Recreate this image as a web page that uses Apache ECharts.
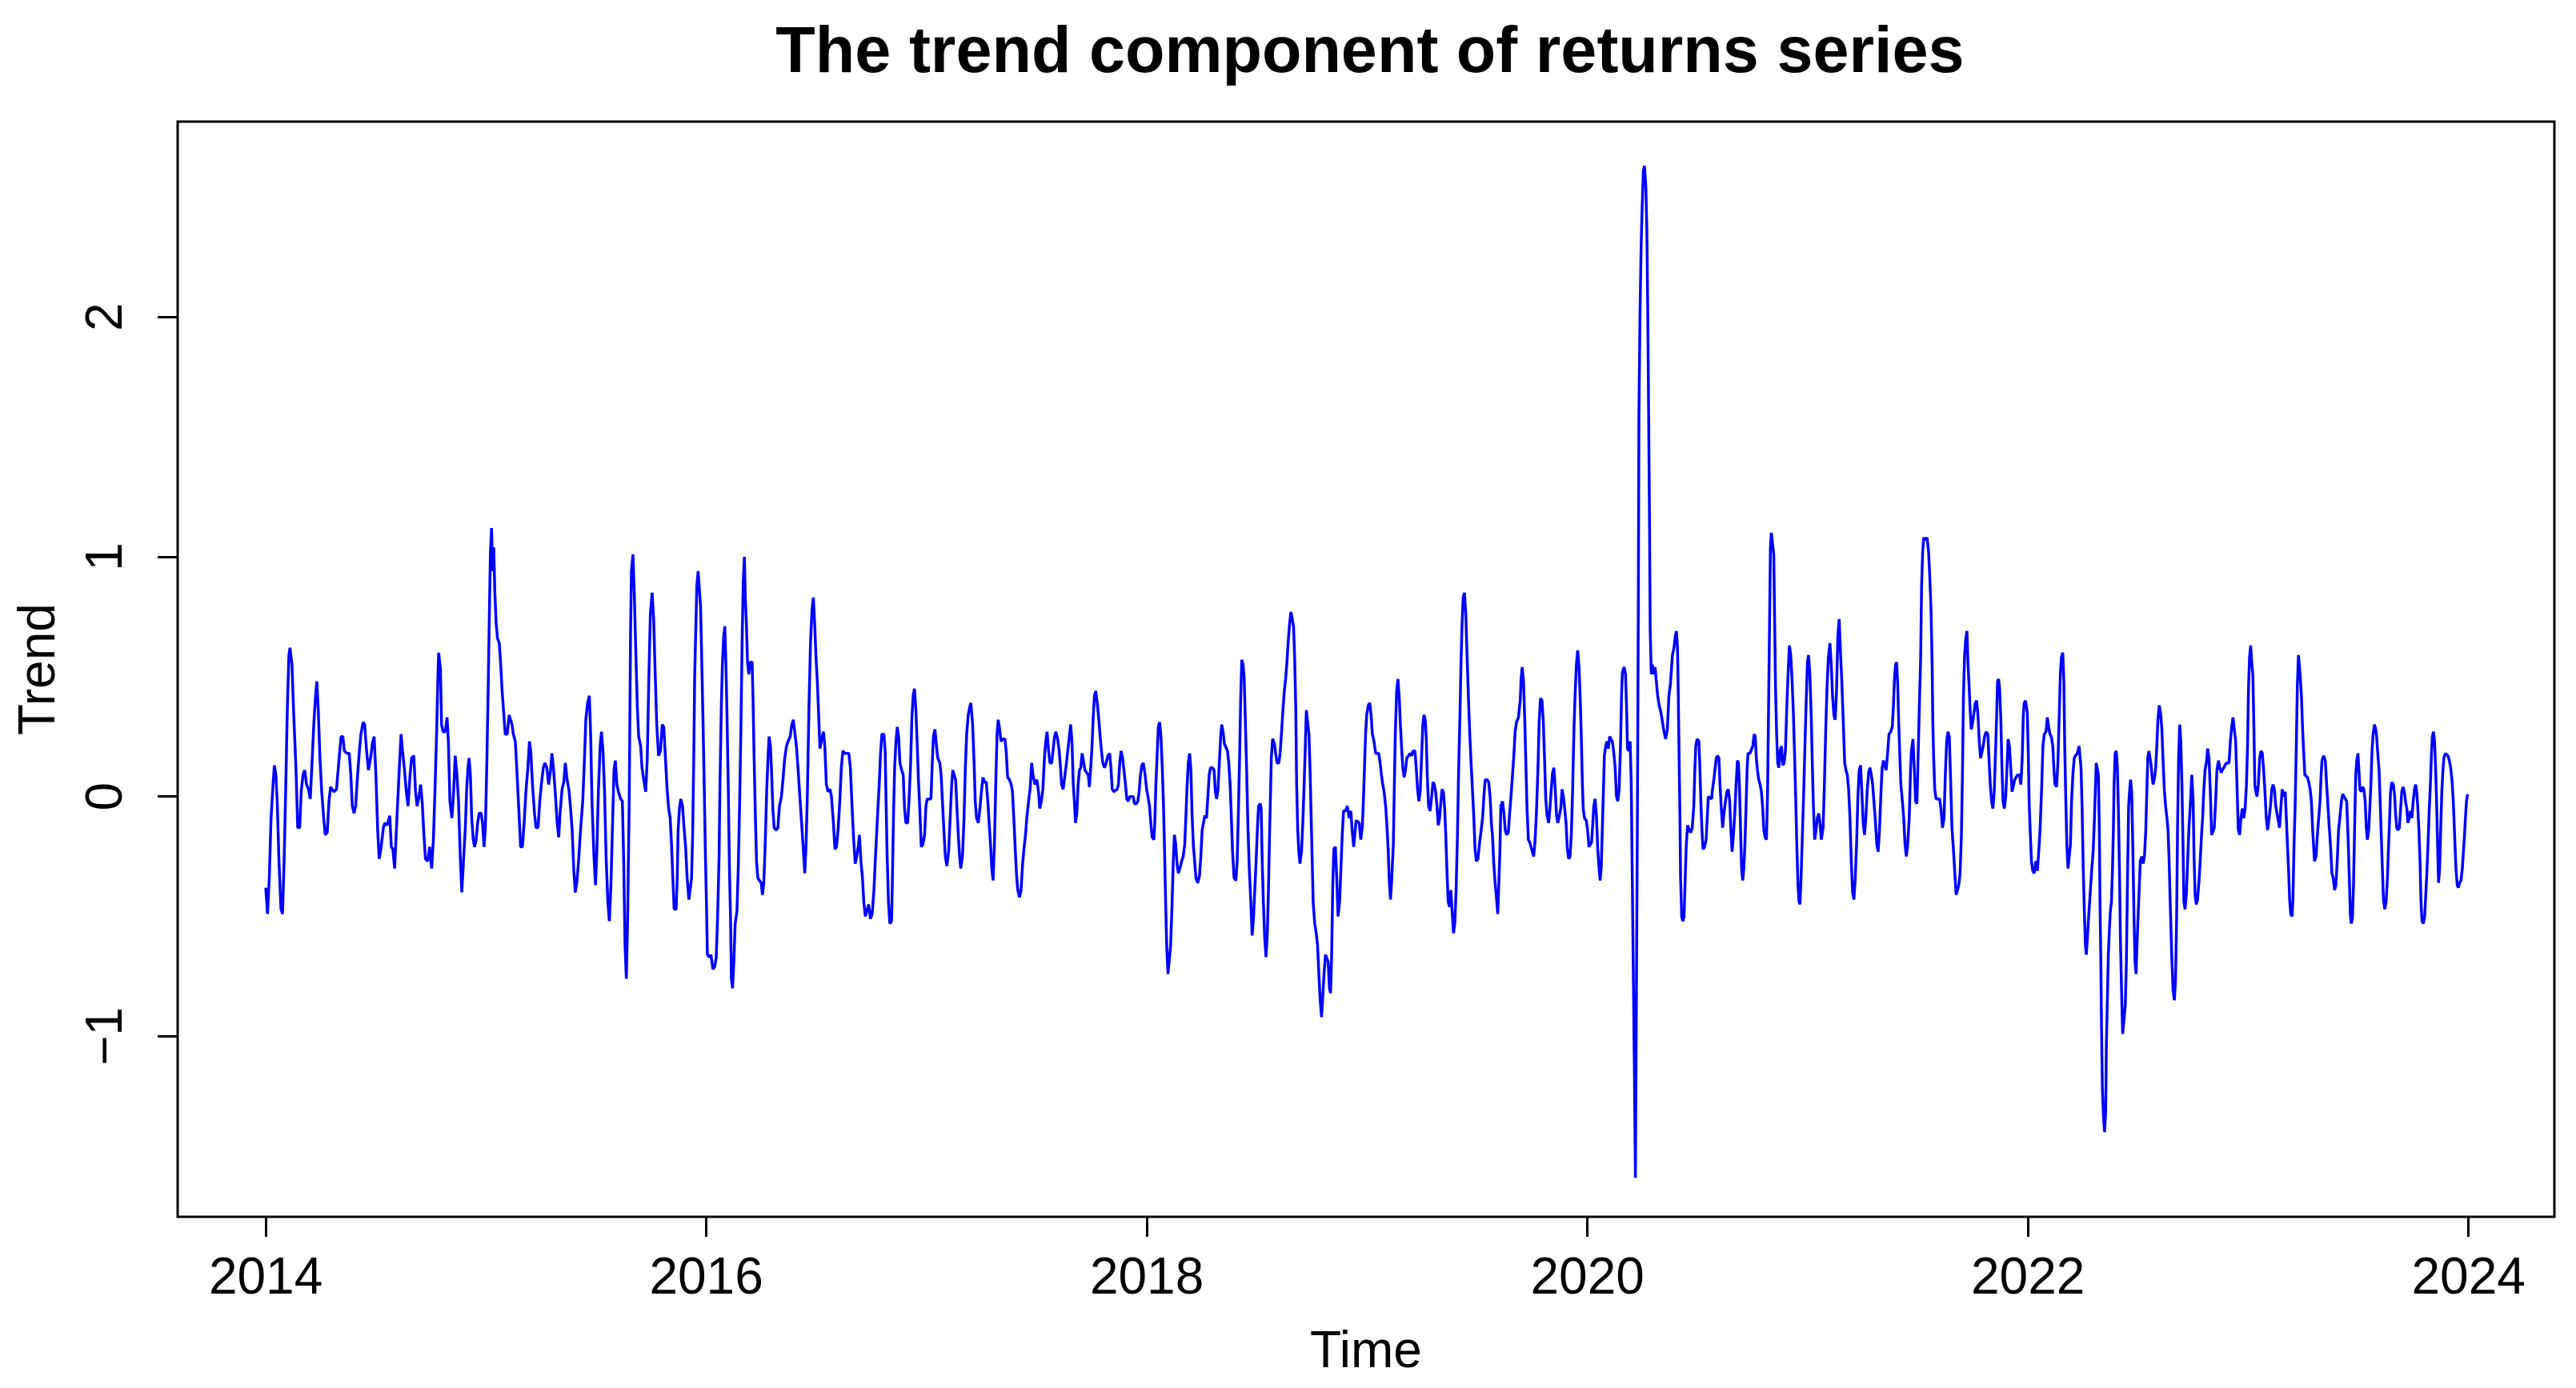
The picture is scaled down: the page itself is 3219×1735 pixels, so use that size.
<!DOCTYPE html>
<html>
<head>
<meta charset="utf-8">
<title>The trend component of returns series</title>
<script src="https://cdn.jsdelivr.net/npm/echarts@6/dist/echarts.min.js"></script>
<style>
html, body { margin: 0; padding: 0; background: #fff; }
#chart { width: 3219px; height: 1735px; }
</style>
</head>
<body>
<div id="chart"></div>
<script>
// tick positions
const xTicks = [2014, 2016, 2018, 2020, 2022, 2024]
const yTicks = [-1, 0, 1, 2]

// decimal year of each observation
const times = [
  2014.000,2014.008,2014.016,2014.024,2014.033,2014.039,2014.046,2014.052,2014.060,2014.069,
  2014.076,2014.083,2014.091,2014.098,2014.105,2014.110,2014.119,2014.127,2014.137,2014.145,
  2014.154,2014.161,2014.169,2014.177,2014.185,2014.194,2014.202,2014.209,2014.218,2014.226,
  2014.232,2014.238,2014.246,2014.254,2014.263,2014.270,2014.279,2014.287,2014.294,2014.309,
  2014.321,2014.335,2014.342,2014.350,2014.357,2014.369,2014.379,2014.386,2014.393,2014.401,
  2014.408,2014.417,2014.425,2014.432,2014.442,2014.449,2014.456,2014.466,2014.476,2014.484,
  2014.492,2014.500,2014.508,2014.515,2014.524,2014.534,2014.541,2014.551,2014.563,2014.570,
  2014.577,2014.585,2014.592,2014.599,2014.606,2014.614,2014.621,2014.629,2014.638,2014.646,
  2014.655,2014.662,2014.672,2014.680,2014.687,2014.696,2014.703,2014.710,2014.718,2014.725,
  2014.735,2014.744,2014.753,2014.761,2014.768,2014.776,2014.781,2014.785,2014.793,2014.798,
  2014.805,2014.815,2014.823,2014.829,2014.836,2014.845,2014.853,2014.860,2014.868,2014.875,
  2014.883,2014.890,2014.897,
  2014.906,2014.912,2014.918,2014.923,2014.929,2014.935,2014.942,2014.948,2014.955,2014.962,
  2014.969,2014.978,2014.984,2014.991,2014.997,2015.003,2015.009,2015.015,2015.020,2015.025,
  2015.030,2015.035,2015.040,2015.046,2015.052,2015.060,2015.066,2015.073,2015.081,2015.087,
  2015.096,2015.105,2015.111,2015.118,2015.124,2015.133,2015.141,2015.148,2015.157,2015.165,
  2015.173,2015.181,2015.190,2015.197,2015.203,2015.211,2015.220,2015.227,2015.236,2015.244,
  2015.251,2015.260,2015.267,2015.276,2015.284,2015.293,2015.299,2015.306,2015.314,2015.323,
  2015.330,2015.336,2015.345,2015.353,2015.360,2015.368,2015.376,2015.383,2015.391,2015.398,
  2015.405,2015.412,2015.420,2015.429,2015.439,2015.447,2015.453,2015.461,2015.469,2015.475,
  2015.481,2015.490,2015.497,2015.503,2015.510,2015.518,2015.524,2015.531,2015.538,2015.545,
  2015.553,2015.560,2015.567,2015.575,2015.581,2015.587,2015.594,2015.601,2015.611,2015.619,
  2015.625,2015.631,2015.637,2015.643,2015.650,2015.656,2015.660,2015.667,2015.673,2015.680,
  2015.687,2015.693,2015.702,2015.708,2015.716,2015.725,2015.732,2015.739,2015.746,2015.754,
  2015.761,2015.768,2015.775,2015.783,2015.792,2015.800,2015.807,
  2015.822,2015.829,2015.836,2015.842,2015.848,2015.854,2015.863,2015.868,2015.872,2015.878,
  2015.884,2015.892,2015.899,2015.906,2015.913,2015.921,2015.928,2015.933,2015.938,2015.943,
  2015.947,2015.952,2015.957,2015.963,2015.969,2015.974,2015.979,2015.985,2015.991,2015.996,
  2016.001,2016.005,2016.013,2016.021,2016.030,2016.038,2016.045,2016.051,2016.058,2016.062,
  2016.068,2016.073,2016.079,2016.084,2016.089,2016.094,2016.100,2016.105,2016.110,2016.114,
  2016.119,2016.125,2016.131,2016.139,2016.145,2016.151,2016.157,2016.163,2016.168,2016.173,
  2016.177,2016.182,2016.187,2016.193,2016.199,2016.208,2016.212,2016.217,2016.223,2016.228,
  2016.234,2016.241,2016.249,2016.255,2016.261,2016.267,2016.274,2016.280,2016.285,2016.291,
  2016.296,2016.302,2016.308,2016.317,2016.325,2016.332,2016.341,2016.348,2016.356,2016.364,
  2016.371,2016.381,2016.388,2016.395,2016.402,2016.409,2016.417,2016.426,2016.434,2016.441,
  2016.447,2016.453,2016.459,2016.466,2016.473,2016.480,2016.486,2016.492,2016.498,2016.504,
  2016.510,2016.516,2016.524,2016.532,2016.538,2016.545,2016.553,2016.562,2016.568,2016.577,
  2016.584,2016.591,2016.599,2016.606,2016.613,2016.620,2016.629,2016.637,2016.647,2016.654,
  2016.662,2016.669,2016.676,2016.683,2016.691,2016.695,2016.702,2016.709,2016.715,2016.722,
  2016.737,2016.745,2016.753,2016.761,2016.767,2016.773,2016.779,2016.785,2016.791,2016.797,
  2016.806,2016.812,2016.816,2016.821,2016.827,2016.833,2016.841,2016.845,2016.850,2016.855,
  2016.861,2016.867,2016.873,2016.879,2016.887,2016.894,2016.900,2016.906,2016.914,2016.920,
  2016.927,2016.933,2016.939,2016.945,2016.951,2016.957,2016.963,2016.969,2016.976,2016.983,
  2016.991,2016.997,2017.003,2017.020,2017.025,2017.031,2017.038,2017.045,2017.051,2017.060,
  2017.066,2017.072,2017.078,2017.085,2017.092,2017.100,2017.107,2017.114,2017.119,2017.126,
  2017.132,2017.138,2017.144,2017.150,2017.155,2017.163,2017.170,2017.176,2017.182,2017.189,
  2017.195,2017.201,2017.209,2017.215,2017.221,2017.227,2017.235,2017.242,2017.250,2017.256,
  2017.263,2017.271,2017.278,2017.284,2017.291,2017.296,2017.302,2017.308,2017.314,2017.320,
  2017.325,2017.332,2017.338,2017.347,2017.356,2017.362,2017.368,2017.376,2017.384,2017.390,
  2017.396,2017.402,2017.408,2017.414,2017.422,2017.429,2017.436,2017.443,2017.449,2017.455,
  2017.463,2017.470,2017.477,2017.483,2017.492,2017.501,2017.508,2017.514,2017.521,2017.528,
  2017.535,2017.541,2017.547,2017.554,2017.560,2017.568,2017.574,2017.581,2017.587,2017.595,
  2017.602,2017.608,2017.613,2017.620,2017.627,2017.635,
  2017.654,2017.660,2017.666,2017.671,2017.676,2017.682,2017.688,2017.694,2017.700,2017.706,
  2017.712,2017.719,2017.734,2017.739,2017.743,2017.750,2017.756,2017.762,2017.768,2017.775,
  2017.782,2017.788,2017.794,2017.800,2017.808,2017.815,2017.823,2017.831,2017.837,2017.843,
  2017.850,2017.865,2017.871,2017.877,2017.883,2017.890,2017.896,2017.903,2017.909,2017.915,
  2017.923,2017.938,2017.944,2017.952,2017.959,2017.965,2017.971,2017.977,2017.984,2017.992,
  2017.999,2018.005,2018.012,2018.018,2018.024,2018.032,2018.036,2018.041,2018.047,2018.052,
  2018.058,2018.064,2018.070,2018.075,2018.080,2018.085,2018.090,2018.096,2018.102,2018.108,
  2018.114,2018.120,2018.125,2018.131,2018.137,2018.143,2018.150,2018.158,2018.165,2018.172,
  2018.177,2018.182,2018.188,2018.194,2018.200,2018.205,2018.211,2018.217,2018.223,2018.231,
  2018.239,2018.245,2018.251,2018.257,2018.263,2018.271,2018.277,2018.283,2018.289,2018.298,
  2018.305,2018.311,2018.317,2018.323,2018.329,2018.335,2018.340,2018.346,2018.352,2018.366,
  2018.372,2018.378,2018.383,2018.389,2018.396,2018.404,2018.410,2018.416,2018.421,2018.426,
  2018.431,2018.437,2018.442,2018.447,2018.453,2018.459,2018.465,2018.472,2018.478,2018.484,
  2018.490,2018.496,2018.502,2018.507,2018.515,2018.519,2018.524,2018.529,2018.535,2018.541,
  2018.547,2018.552,2018.557,
  2018.565,2018.571,2018.579,2018.585,2018.591,2018.599,2018.605,2018.611,2018.617,2018.624,
  2018.630,2018.636,2018.642,2018.648,2018.654,2018.661,2018.666,2018.671,2018.676,2018.680,
  2018.685,2018.690,2018.695,2018.702,2018.708,2018.714,2018.720,2018.724,2018.730,2018.736,
  2018.741,2018.746,2018.751,2018.755,2018.762,2018.769,2018.775,2018.781,2018.787,2018.793,
  2018.799,2018.805,2018.811,2018.817,2018.823,2018.829,2018.834,2018.839,2018.844,2018.849,
  2018.856,2018.862,2018.868,2018.875,2018.881,2018.887,2018.893,2018.902,2018.910,2018.918,
  2018.926,2018.932,2018.939,2018.944,2018.950,2018.964,2018.971,2018.978,2018.983,2018.988,
  2018.993,2018.998,2019.005,2019.012,2019.018,2019.024,2019.031,2019.039,2019.053,2019.059,
  2019.065,2019.071,2019.077,2019.085,2019.091,2019.096,2019.100,2019.106,2019.112,2019.119,
  2019.123,2019.128,2019.134,2019.140,2019.146,2019.151,2019.156,2019.162,2019.168,2019.174,
  2019.180,2019.195,2019.202,2019.208,2019.217,2019.223,2019.229,2019.235,2019.241,2019.247,
  2019.253,2019.258,2019.264,2019.269,2019.273,2019.279,2019.286,2019.293,2019.299,2019.305,
  2019.311,2019.317,2019.323,2019.329,2019.335,2019.340,2019.346,2019.352,2019.357,2019.362,
  2019.368,2019.374,2019.380,2019.386,2019.392,2019.398,2019.404,2019.410,2019.415,2019.421,
  2019.426,2019.431,2019.436,2019.442,2019.448,2019.454,2019.460,2019.466,2019.472,
  2019.478,2019.484,2019.490,2019.496,2019.503,2019.511,2019.518,2019.525,2019.530,2019.536,
  2019.545,2019.552,2019.559,2019.564,2019.569,2019.575,2019.581,2019.587,2019.593,2019.598,
  2019.603,2019.607,2019.615,2019.621,2019.627,2019.633,2019.641,2019.647,2019.653,2019.660,
  2019.666,2019.672,2019.678,2019.687,2019.695,2019.699,2019.704,2019.710,2019.716,2019.721,
  2019.726,2019.732,2019.738,2019.744,2019.750,2019.756,2019.762,2019.768,2019.775,2019.781,
  2019.787,2019.794,2019.800,2019.806,2019.811,2019.817,2019.824,2019.830,2019.836,2019.842,
  2019.848,2019.854,2019.860,2019.866,2019.873,2019.879,2019.885,2019.891,2019.897,2019.903,
  2019.909,2019.915,2019.921,2019.927,2019.933,2019.939,2019.944,2019.950,2019.956,2019.962,
  2019.967,2019.972,2019.977,2019.981,2019.987,2019.995,2020.001,2020.007,2020.013,2020.019,
  2020.024,2020.029,2020.035,2020.041,2020.047,2020.053,2020.058,2020.063,2020.067,2020.072,
  2020.077,2020.083,2020.089,2020.095,2020.101,2020.107,2020.113,2020.119,2020.126,2020.132,
  2020.138,2020.144,2020.150,2020.155,2020.159,2020.167,2020.173,2020.178,2020.182,2020.188,
  2020.194,2020.199,2020.204,2020.209,2020.214,2020.218,2020.222,2020.227,2020.231,2020.234,
  2020.239,2020.244,2020.249,2020.254,2020.259,2020.265,2020.270,2020.274,2020.278,2020.282,
  2020.285,2020.290,2020.295,2020.301,2020.307,2020.314,2020.319,2020.326,2020.334,2020.341,
  2020.348,2020.355,2020.363,2020.370,2020.377,2020.386,
  2020.393,2020.399,2020.404,2020.409,2020.412,2020.416,2020.420,2020.423,2020.428,2020.433,
  2020.439,2020.444,2020.449,2020.455,2020.462,2020.469,2020.476,2020.483,2020.487,2020.492,
  2020.498,2020.506,2020.510,2020.515,2020.520,2020.525,2020.532,2020.539,2020.544,2020.549,
  2020.564,2020.568,2020.574,2020.581,2020.585,2020.591,2020.597,2020.602,2020.608,2020.614,
  2020.620,2020.627,2020.633,2020.640,2020.646,2020.651,2020.657,2020.663,2020.669,2020.675,
  2020.681,2020.686,2020.691,2020.696,2020.700,2020.705,2020.710,2020.715,2020.720,2020.725,
  2020.729,2020.738,2020.745,2020.751,2020.757,2020.762,2020.767,2020.772,2020.778,2020.784,
  2020.790,2020.796,2020.801,2020.807,2020.813,2020.818,2020.823,2020.828,2020.831,2020.835,
  2020.841,2020.846,2020.850,2020.854,2020.859,2020.864,2020.869,2020.875,2020.881,2020.887,
  2020.893,2020.899,2020.905,2020.911,2020.917,2020.923,2020.929,2020.935,2020.941,2020.946,
  2020.951,2020.956,2020.961,2020.965,2020.970,2020.976,2020.982,2020.987,2020.993,2020.999,
  2021.004,2021.010,2021.016,2021.021,2021.026,2021.032,2021.038,2021.044,2021.050,2021.056,
  2021.062,2021.070,2021.076,2021.082,2021.088,2021.094,2021.101,2021.107,2021.113,2021.119,
  2021.125,2021.131,2021.137,2021.143,2021.149,2021.155,2021.162,2021.168,2021.174,2021.180,
  2021.186,2021.192,2021.198,2021.204,2021.210,2021.216,2021.222,2021.228,2021.234,2021.240,
  2021.246,2021.252,2021.258,2021.264,2021.270,2021.277,2021.283,2021.289,2021.295,
  2021.308,2021.314,2021.320,2021.326,2021.332,2021.338,2021.344,2021.350,2021.356,2021.363,
  2021.369,2021.377,2021.384,2021.389,2021.394,2021.399,2021.404,2021.409,2021.413,2021.418,
  2021.423,2021.430,2021.436,2021.442,2021.448,2021.454,2021.461,2021.467,2021.471,2021.478,
  2021.484,2021.490,2021.496,2021.502,2021.508,2021.513,2021.517,2021.522,2021.527,2021.534,
  2021.542,2021.549,2021.555,2021.560,2021.565,2021.568,2021.572,2021.577,2021.583,2021.599,
  2021.605,2021.612,2021.619,2021.625,2021.631,2021.637,2021.643,2021.649,2021.655,2021.661,
  2021.668,2021.674,2021.680,2021.686,2021.692,2021.698,2021.703,2021.707,2021.712,2021.717,
  2021.723,2021.728,2021.733,2021.738,2021.743,2021.749,2021.755,2021.761,2021.767,2021.773,
  2021.779,2021.785,2021.791,2021.797,2021.803,2021.810,2021.818,2021.822,2021.829,2021.835,
  2021.841,2021.847,2021.853,2021.858,2021.862,2021.867,2021.872,2021.877,2021.882,2021.887,
  2021.893,2021.899,2021.905,2021.910,2021.916,2021.922,2021.928,2021.934,2021.940,2021.953,
  2021.962,2021.968,2021.974,2021.979,2021.983,2021.989,2021.997,2022.002,2022.006,2022.011,
  2022.016,2022.022,2022.028,2022.036,2022.043,2022.049,2022.055,2022.062,2022.068,2022.074,
  2022.082,2022.088,2022.094,2022.100,2022.106,2022.113,2022.118,2022.123,2022.130,2022.136,
  2022.142,2022.147,2022.152,2022.158,2022.163,2022.167,2022.172,2022.177,2022.182,2022.188,
  2022.193,2022.198,2022.204,2022.210,2022.216,
  2022.224,2022.232,2022.236,2022.241,2022.246,2022.251,2022.256,2022.261,2022.265,2022.270,
  2022.275,2022.280,2022.285,2022.290,2022.296,2022.302,2022.307,2022.310,2022.315,2022.320,
  2022.324,2022.327,2022.331,2022.334,2022.338,2022.343,2022.348,2022.353,2022.356,2022.360,
  2022.365,2022.370,2022.374,2022.379,2022.384,2022.388,2022.391,2022.396,2022.401,2022.406,
  2022.411,2022.416,2022.420,2022.425,2022.430,2022.437,2022.442,2022.447,2022.452,2022.457,
  2022.462,2022.466,2022.471,2022.476,2022.481,2022.486,2022.491,2022.495,2022.500,2022.505,
  2022.510,2022.517,2022.523,2022.529,2022.535,2022.540,2022.544,2022.549,2022.554,2022.558,
  2022.563,2022.568,2022.575,2022.580,2022.585,2022.590,2022.596,2022.602,2022.608,2022.613,
  2022.619,2022.625,2022.631,2022.636,2022.641,2022.647,2022.653,2022.659,2022.665,2022.670,
  2022.675,2022.679,2022.684,2022.689,2022.694,2022.699,2022.704,2022.708,2022.713,2022.719,
  2022.725,2022.731,2022.738,2022.744,2022.750,2022.754,2022.759,2022.764,2022.770,2022.776,
  2022.782,2022.788,2022.793,2022.798,2022.804,2022.810,2022.816,2022.822,2022.828,2022.834,
  2022.840,2022.846,2022.852,2022.858,2022.865,2022.871,2022.877,2022.889,2022.901,2022.913,
  2022.919,2022.925,2022.931,2022.938,2022.943,2022.949,2022.955,2022.961,2022.967,2022.973,
  2022.980,2022.986,2022.992,2022.997,2023.001,2023.006,2023.011,2023.016,2023.021,2023.026,
  2023.030,2023.035,2023.040,2023.046,2023.052,2023.058,2023.064,2023.070,2023.076,2023.082,
  2023.088,2023.095,2023.101,2023.107,2023.113,2023.119,2023.125,
  2023.142,2023.148,2023.154,2023.159,2023.164,2023.168,2023.173,2023.178,2023.183,2023.188,
  2023.193,2023.199,2023.203,2023.208,2023.213,2023.218,2023.223,2023.228,2023.232,2023.237,
  2023.242,2023.247,2023.252,2023.257,2023.269,2023.275,2023.281,2023.287,2023.292,2023.297,
  2023.301,2023.308,2023.314,2023.320,2023.326,2023.331,2023.335,2023.343,2023.350,2023.356,
  2023.362,2023.368,2023.374,2023.380,2023.386,2023.392,2023.398,2023.404,2023.410,2023.416,
  2023.423,2023.429,2023.441,2023.447,2023.453,2023.459,2023.464,2023.468,2023.473,2023.478,
  2023.483,2023.488,2023.493,2023.498,2023.502,2023.507,2023.513,2023.519,2023.525,2023.531,
  2023.536,2023.541,2023.547,2023.552,2023.557,2023.562,2023.567,2023.573,2023.579,2023.583,
  2023.588,2023.594,2023.599,2023.604,2023.609,2023.614,2023.620,2023.626,2023.632,2023.637,
  2023.642,2023.646,2023.652,2023.659,2023.665,2023.669,2023.674,2023.680,2023.686,2023.692,
  2023.697,2023.703,2023.709,2023.714,2023.720,2023.725,2023.731,2023.737,2023.743,2023.749,
  2023.755,2023.760,2023.765,2023.770,2023.775,2023.780,2023.784,2023.789,2023.795,2023.801,
  2023.806,2023.811,2023.817,2023.822,2023.827,2023.832,2023.836,2023.841,2023.846,2023.851,
  2023.856,2023.861,2023.864,2023.869,2023.874,2023.879,2023.884,2023.888,2023.895,2023.901,
  2023.907,2023.913,2023.919,2023.925,2023.931,2023.937,2023.943,2023.949,2023.954,2023.960,
  2023.966,2023.972,2023.977,2023.982,2023.986,2023.991,2023.996
]

// trend value at each time
const trend = [
  -0.38,-0.49,-0.34,-0.09,0.05,0.13,0.09,-0.02,-0.27,-0.47,
  -0.49,-0.28,0.05,0.37,0.59,0.62,0.55,0.34,0.12,-0.13,
  -0.13,0.02,0.09,0.11,0.05,0.03,-0.01,0.12,0.30,0.42,
  0.48,0.37,0.16,0.02,-0.09,-0.16,-0.15,-0.02,0.04,0.02,
  0.03,0.18,0.25,0.25,0.19,0.18,0.18,0.09,-0.04,-0.07,
  -0.04,0.09,0.19,0.26,0.31,0.30,0.21,0.11,0.16,0.22,
  0.25,0.09,-0.14,-0.26,-0.21,-0.13,-0.11,-0.12,-0.08,-0.21,
  -0.22,-0.30,-0.16,-0.02,0.11,0.26,0.19,0.12,0.02,-0.04,
  0.09,0.16,0.17,0.02,-0.04,0.00,0.05,-0.02,-0.16,-0.26,
  -0.27,-0.21,-0.30,-0.18,0.02,0.28,0.48,0.60,0.53,0.30,
  0.27,0.27,0.33,0.23,-0.02,-0.09,0.02,0.17,0.09,-0.02,
  -0.25,-0.40,-0.28,
  -0.13,0.03,0.12,0.16,0.09,-0.09,-0.18,-0.21,-0.18,-0.11,
  -0.07,-0.07,-0.11,-0.21,-0.13,0.11,0.41,0.76,1.02,1.12,
  0.94,1.04,0.85,0.72,0.66,0.64,0.56,0.44,0.34,0.26,
  0.26,0.34,0.34,0.30,0.26,0.23,0.09,-0.04,-0.21,-0.21,
  -0.11,0.02,0.12,0.23,0.19,0.05,-0.07,-0.13,-0.13,-0.02,
  0.05,0.12,0.14,0.12,0.05,0.11,0.18,0.12,0.02,-0.11,
  -0.17,-0.07,0.03,0.06,0.14,0.07,0.03,-0.04,-0.14,-0.30,
  -0.40,-0.36,-0.27,-0.14,-0.02,0.16,0.32,0.39,0.42,0.26,
  -0.02,-0.25,-0.37,-0.23,0.02,0.21,0.27,0.19,0.02,-0.25,
  -0.44,-0.52,-0.37,-0.09,0.11,0.15,0.05,0.02,-0.01,-0.02,
  -0.27,-0.62,-0.76,-0.50,-0.02,0.67,0.94,1.01,0.85,0.60,
  0.37,0.25,0.21,0.12,0.07,0.02,0.16,0.49,0.76,0.85,
  0.74,0.51,0.30,0.17,0.19,0.30,0.29,
  0.03,-0.05,-0.09,-0.20,-0.34,-0.47,-0.47,-0.34,-0.14,-0.05,
  -0.01,-0.04,-0.13,-0.21,-0.34,-0.43,-0.43,-0.34,-0.16,0.16,
  0.49,0.69,0.88,0.94,0.94,0.79,0.58,0.32,0.02,-0.25,
  -0.46,-0.66,-0.67,-0.66,-0.72,-0.71,-0.67,-0.51,-0.25,0.05,
  0.37,0.55,0.67,0.71,0.55,0.34,0.02,-0.30,-0.51,-0.76,
  -0.80,-0.69,-0.53,-0.48,-0.30,-0.04,0.28,0.67,0.90,1.00,
  0.83,0.72,0.56,0.51,0.56,0.56,0.41,0.16,-0.09,-0.27,
  -0.34,-0.35,-0.36,-0.41,-0.36,-0.21,0.02,0.16,0.25,0.21,
  0.11,-0.05,-0.13,-0.14,-0.13,-0.04,0.00,0.07,0.16,0.21,
  0.23,0.25,0.30,0.32,0.32,0.21,0.11,-0.02,-0.13,-0.23,
  -0.32,-0.20,0.02,0.37,0.64,0.78,0.83,0.72,0.58,0.48,
  0.34,0.20,0.24,0.27,0.21,0.05,0.02,0.03,0.00,-0.11,
  -0.22,-0.21,-0.13,-0.02,0.12,0.19,0.18,0.18,0.18,0.12,
  -0.05,-0.18,-0.28,-0.25,-0.20,-0.16,-0.27,-0.34,-0.44,-0.50,
  -0.45,-0.51,-0.49,-0.39,-0.27,-0.16,-0.05,0.05,0.18,0.26,
  0.26,0.19,-0.02,-0.25,-0.44,-0.53,-0.52,-0.34,-0.07,0.12,
  0.23,0.29,0.25,0.14,0.11,0.09,-0.05,-0.11,-0.11,-0.02,
  0.12,0.32,0.42,0.45,0.37,0.23,0.07,-0.05,-0.21,-0.20,
  -0.16,-0.04,-0.01,-0.01,0.12,0.25,0.28,0.21,0.16,0.14,
  0.09,-0.02,-0.13,-0.25,-0.29,-0.23,-0.09,0.05,0.11,0.11,
  0.07,-0.05,-0.16,-0.25,-0.30,-0.25,-0.09,0.12,0.26,0.34,
  0.37,0.39,0.30,0.16,-0.02,-0.09,-0.11,-0.05,0.03,0.08,
  0.06,0.06,-0.02,-0.11,-0.21,-0.30,-0.35,-0.20,0.05,0.26,
  0.32,0.28,0.23,0.24,0.24,0.18,0.08,0.07,0.05,0.02,
  -0.09,-0.21,-0.32,-0.39,-0.42,-0.39,-0.28,-0.21,-0.16,-0.09,
  -0.02,0.03,0.14,0.09,0.05,0.07,0.02,-0.05,-0.02,0.03,
  0.16,0.23,0.27,0.19,0.14,0.14,0.19,0.25,0.27,0.24,
  0.19,0.12,0.05,0.03,0.03,0.14,
  0.30,0.23,0.05,-0.02,-0.11,-0.07,0.05,0.11,0.12,0.18,
  0.15,0.11,0.09,0.04,0.09,0.19,0.32,0.42,0.44,0.39,
  0.32,0.25,0.19,0.14,0.12,0.14,0.17,0.18,0.12,0.03,
  0.02,0.03,0.05,0.14,0.19,0.16,0.11,0.05,-0.01,-0.02,
  0.00,0.00,-0.03,-0.03,-0.02,0.02,0.09,0.13,0.14,0.09,
  0.03,0.00,-0.04,-0.11,-0.17,-0.18,-0.11,0.05,0.18,0.29,
  0.31,0.25,0.12,-0.02,-0.21,-0.43,-0.62,-0.74,-0.74,-0.62,
  -0.46,-0.27,-0.16,-0.20,-0.28,-0.32,-0.30,-0.27,-0.25,-0.20,
  -0.09,0.03,0.14,0.18,0.11,-0.07,-0.20,-0.27,-0.34,-0.36,
  -0.33,-0.25,-0.14,-0.11,-0.08,-0.09,0.00,0.09,0.12,0.12,
  0.11,0.02,-0.01,0.03,0.14,0.25,0.30,0.27,0.22,0.19,
  0.14,0.05,-0.07,-0.23,-0.34,-0.35,-0.27,-0.05,0.16,0.41,
  0.57,0.55,0.49,0.32,0.11,-0.13,-0.30,-0.44,-0.58,-0.51,
  -0.39,-0.27,-0.13,-0.04,-0.03,-0.05,-0.28,-0.44,-0.59,-0.67,
  -0.57,-0.39,-0.16,
  0.16,0.24,0.22,0.18,0.14,0.14,0.18,0.26,0.35,0.44,
  0.49,0.56,0.65,0.72,0.77,0.77,0.71,0.58,0.37,0.05,
  -0.14,-0.23,-0.28,-0.23,-0.11,0.05,0.23,0.36,0.36,0.26,
  0.11,-0.09,-0.28,-0.44,-0.53,-0.57,-0.62,-0.74,-0.85,-0.92,
  -0.83,-0.73,-0.66,-0.66,-0.69,-0.80,-0.82,-0.66,-0.37,-0.22,
  -0.21,-0.34,-0.50,-0.44,-0.30,-0.16,-0.06,-0.06,-0.04,-0.09,
  -0.06,-0.14,-0.21,-0.16,-0.10,-0.11,-0.18,-0.13,-0.02,0.12,
  0.26,0.34,0.38,0.39,0.34,0.26,0.23,0.18,0.18,0.14,
  0.09,0.05,0.02,-0.05,-0.14,-0.23,-0.34,-0.43,-0.34,-0.20,
  0.02,0.26,0.44,0.49,0.41,0.30,0.21,0.12,0.08,0.11,
  0.16,0.18,0.17,0.19,0.19,0.12,0.03,-0.02,0.02,0.16,
  0.30,0.34,0.32,0.23,0.09,-0.04,-0.06,0.00,0.06,0.05,
  0.02,-0.04,-0.12,-0.09,-0.02,0.03,0.02,-0.05,-0.16,-0.30,
  -0.44,-0.46,-0.39,-0.48,-0.57,-0.53,-0.39,-0.16,0.09,0.32,
  0.55,0.72,0.83,0.85,0.76,0.58,0.41,0.26,0.14,
  0.03,-0.08,-0.22,-0.27,-0.26,-0.19,-0.14,-0.08,0.00,0.07,
  0.07,0.06,-0.01,-0.11,-0.16,-0.28,-0.36,-0.42,-0.49,-0.36,
  -0.22,-0.04,-0.02,-0.07,-0.14,-0.16,-0.15,-0.07,0.00,0.09,
  0.17,0.27,0.31,0.33,0.40,0.49,0.54,0.48,0.31,0.12,
  -0.05,-0.18,-0.19,-0.21,-0.23,-0.25,-0.19,-0.08,0.10,0.31,
  0.41,0.40,0.31,0.14,-0.01,-0.08,-0.11,-0.05,0.03,0.10,
  0.12,0.03,-0.08,-0.11,-0.11,-0.05,0.03,0.00,-0.05,-0.11,
  -0.22,-0.26,-0.25,-0.16,0.03,0.28,0.42,0.55,0.61,0.54,
  0.42,0.26,0.06,-0.05,-0.09,-0.10,-0.14,-0.21,-0.21,-0.19,
  -0.12,-0.04,-0.01,-0.08,-0.22,-0.30,-0.35,-0.29,-0.16,0.00,
  0.17,0.21,0.23,0.20,0.25,0.24,0.23,0.19,0.12,0.00,
  -0.02,0.03,0.20,0.42,0.52,0.54,0.51,0.37,0.20,0.19,
  0.23,0.06,-0.36,-0.78,-1.20,-1.59,-0.92,-0.08,0.76,1.60,
  2.02,2.30,2.47,2.61,2.63,2.55,2.36,2.02,1.60,1.15,
  0.70,0.51,0.55,0.51,0.54,0.54,0.42,0.38,0.35,0.31,
  0.27,0.24,0.28,0.42,0.47,0.59,
  0.62,0.67,0.69,0.62,0.46,0.19,-0.07,-0.34,-0.50,-0.52,
  -0.50,-0.34,-0.20,-0.12,-0.14,-0.15,-0.13,-0.04,0.09,0.21,
  0.24,0.23,0.14,-0.02,-0.14,-0.22,-0.21,-0.18,-0.09,0.00,
  -0.01,0.03,0.07,0.07,0.16,0.17,0.16,0.05,-0.05,-0.13,
  -0.07,-0.02,0.02,0.03,-0.02,-0.13,-0.23,-0.16,-0.07,0.05,
  0.15,0.14,0.02,-0.16,-0.30,-0.35,-0.30,-0.20,-0.05,0.11,
  0.18,0.18,0.18,0.21,0.26,0.25,0.16,0.11,0.07,0.05,
  0.02,-0.05,-0.14,-0.17,-0.18,0.02,0.41,0.81,1.04,1.10,
  1.10,1.01,0.74,0.46,0.26,0.14,0.12,0.19,0.21,0.13,
  0.14,0.19,0.37,0.51,0.63,0.59,0.49,0.35,0.16,-0.02,
  -0.21,-0.37,-0.44,-0.45,-0.34,-0.16,0.02,0.19,0.39,0.56,
  0.59,0.51,0.34,0.14,-0.04,-0.18,-0.14,-0.09,-0.07,-0.11,
  -0.18,-0.13,0.05,0.28,0.46,0.58,0.64,0.55,0.42,0.34,
  0.32,0.44,0.67,0.74,0.60,0.48,0.30,0.14,0.11,0.09,
  0.03,-0.09,-0.27,-0.40,-0.43,-0.34,-0.20,0.00,0.11,0.13,
  0.02,-0.11,-0.16,-0.09,0.02,0.10,0.12,0.09,0.05,
  -0.11,-0.20,-0.23,-0.14,0.00,0.12,0.15,0.13,0.11,0.18,
  0.26,0.27,0.29,0.37,0.49,0.55,0.56,0.46,0.32,0.18,
  0.05,-0.02,-0.09,-0.20,-0.25,-0.20,-0.09,0.11,0.19,0.24,
  0.12,-0.02,-0.03,0.19,0.41,0.58,0.87,1.02,1.08,1.07,
  1.08,1.02,0.90,0.78,0.55,0.32,0.16,0.03,-0.01,-0.01,
  -0.05,-0.13,-0.09,0.09,0.23,0.27,0.25,0.07,-0.13,-0.21,
  -0.32,-0.41,-0.41,-0.37,-0.32,-0.16,0.11,0.41,0.58,0.65,
  0.69,0.55,0.46,0.35,0.28,0.31,0.35,0.39,0.40,0.34,
  0.23,0.16,0.16,0.21,0.25,0.27,0.26,0.18,0.05,-0.02,
  -0.05,0.02,0.19,0.34,0.48,0.49,0.44,0.32,0.12,-0.02,
  -0.05,0.00,0.12,0.24,0.21,0.12,0.02,0.02,0.07,0.09,
  0.09,0.05,0.16,0.34,0.39,0.40,0.35,0.16,-0.04,-0.16,
  -0.27,-0.31,-0.32,-0.27,-0.31,-0.23,-0.14,0.03,0.21,0.26,
  0.27,0.33,0.29,0.26,0.25,0.21,0.11,0.05,0.04,0.14,
  0.34,0.51,0.58,0.60,0.48,0.21,-0.02,-0.21,-0.30,-0.30,
  -0.20,-0.02,0.09,0.16,0.17,
  0.18,0.21,0.21,0.12,-0.05,-0.30,-0.48,-0.62,-0.66,-0.59,
  -0.51,-0.44,-0.37,-0.30,-0.23,-0.09,0.05,0.14,0.14,0.09,
  -0.13,-0.43,-0.69,-0.96,-1.22,-1.34,-1.40,-1.31,-1.04,-0.87,
  -0.66,-0.55,-0.48,-0.44,-0.30,-0.13,0.05,0.18,0.19,0.12,
  -0.07,-0.34,-0.60,-0.81,-0.99,-0.99,-0.87,-0.69,-0.34,-0.04,
  0.03,0.07,0.02,-0.20,-0.48,-0.69,-0.74,-0.62,-0.50,-0.39,
  -0.27,-0.25,-0.28,-0.25,-0.14,0.03,0.16,0.19,0.19,0.14,
  0.09,0.05,0.08,0.12,0.21,0.32,0.38,0.35,0.28,0.16,
  0.03,-0.04,-0.09,-0.14,-0.27,-0.48,-0.67,-0.81,-0.85,-0.76,
  -0.51,-0.14,0.16,0.30,0.23,0.05,-0.20,-0.44,-0.47,-0.41,
  -0.27,-0.13,-0.02,0.09,-0.02,-0.25,-0.41,-0.45,-0.43,-0.36,
  -0.27,-0.16,-0.09,0.02,0.11,0.14,0.20,0.16,0.02,-0.16,
  -0.16,-0.13,-0.02,0.11,0.15,0.12,0.10,0.12,0.14,0.14,
  0.23,0.29,0.33,0.33,0.23,0.05,-0.14,-0.16,-0.09,-0.05,
  -0.09,-0.05,0.05,0.21,0.44,0.58,0.63,0.56,0.51,0.28,
  0.05,0.02,0.00,0.05,0.16,0.19,0.18,0.11,0.02,-0.09,
  -0.14,-0.09,-0.04,0.03,0.05,0.03,-0.04,
  -0.13,-0.05,0.03,0.03,0.00,0.02,-0.09,-0.20,-0.30,-0.43,
  -0.49,-0.50,-0.43,-0.20,-0.04,0.19,0.46,0.59,0.55,0.49,
  0.41,0.28,0.18,0.09,0.08,0.06,0.03,-0.02,-0.13,-0.21,
  -0.27,-0.25,-0.16,-0.09,-0.02,0.09,0.15,0.17,0.15,0.05,
  -0.04,-0.13,-0.21,-0.32,-0.34,-0.39,-0.37,-0.27,-0.14,-0.09,
  -0.02,0.01,-0.01,-0.02,-0.16,-0.34,-0.50,-0.53,-0.51,-0.37,
  -0.13,0.09,0.15,0.18,0.12,0.03,0.02,0.04,0.03,-0.02,
  -0.13,-0.18,-0.14,-0.05,0.05,0.19,0.26,0.30,0.28,0.25,
  0.18,0.11,-0.02,-0.16,-0.30,-0.43,-0.47,-0.44,-0.34,-0.21,
  -0.09,0.02,0.06,0.05,0.00,-0.07,-0.13,-0.14,-0.13,-0.05,
  0.02,0.04,0.02,-0.02,-0.05,-0.11,-0.09,-0.06,-0.09,-0.02,
  0.03,0.05,0.02,-0.05,-0.14,-0.27,-0.43,-0.52,-0.53,-0.50,
  -0.41,-0.32,-0.18,-0.05,0.05,0.18,0.25,0.27,0.23,0.11,
  -0.05,-0.25,-0.36,-0.30,-0.13,0.02,0.11,0.16,0.18,0.18,
  0.17,0.15,0.12,0.07,-0.02,-0.16,-0.30,-0.37,-0.38,-0.36,
  -0.35,-0.30,-0.23,-0.16,-0.09,-0.02,0.01
]

const font = "'Liberation Sans', Arial, Helvetica, sans-serif"

let myChart = echarts.init(document.getElementById('chart'))

let option = {
  animation: false,
  backgroundColor: '#ffffff',
  textStyle: { fontFamily: font, color: '#000' },
  title: {
    text: 'The trend component of returns series',
    left: 1707,
    textAlign: 'center',
    top: 22,
    textStyle: { fontFamily: font, fontSize: 81, fontWeight: 'bold', color: '#000' }
  },
  grid: {
    show: true,
    left: 222,
    right: 27,
    top: 152,
    bottom: 214,
    borderColor: '#000',
    borderWidth: 3,
    backgroundColor: 'transparent'
  },
  xAxis: {
    type: 'value',
    min: 2013.6,
    max: 2024.39,
    name: 'Time',
    nameLocation: 'middle',
    nameGap: 138,
    nameTextStyle: { fontFamily: font, fontSize: 64, color: '#000' },
    axisLine: { show: false, onZero: false },
    splitLine: { show: false },
    axisTick: { show: true, length: 25, customValues: xTicks, lineStyle: { color: '#000', width: 3 } },
    axisLabel: {
      fontFamily: font, fontSize: 64, color: '#000', margin: 46,
      customValues: xTicks,
      formatter: v => String(v)
    }
  },
  yAxis: {
    type: 'value',
    min: -1.753,
    max: 2.815,
    name: 'Trend',
    nameLocation: 'middle',
    nameGap: 140,
    nameTextStyle: { fontFamily: font, fontSize: 64, color: '#000' },
    axisLine: { show: false, onZero: false },
    splitLine: { show: false },
    axisTick: { show: true, length: 25, customValues: yTicks, lineStyle: { color: '#000', width: 3 } },
    axisLabel: {
      fontFamily: font, fontSize: 64, color: '#000', margin: 56, rotate: 90,
      customValues: yTicks,
      formatter: v => v < 0 ? '\u2212' + Math.abs(v) : String(v)
    }
  },
  series: [
    {
      name: 'Trend',
      type: 'line',
      data: times.map((t, i) => [t, trend[i]]),
      symbol: 'none',
      showSymbol: false,
      silent: true,
      lineStyle: { color: '#0000ff', width: 3.5 },
      itemStyle: { color: '#0000ff' }
    }
  ]
}

myChart.setOption(option)
</script>
</body>
</html>
